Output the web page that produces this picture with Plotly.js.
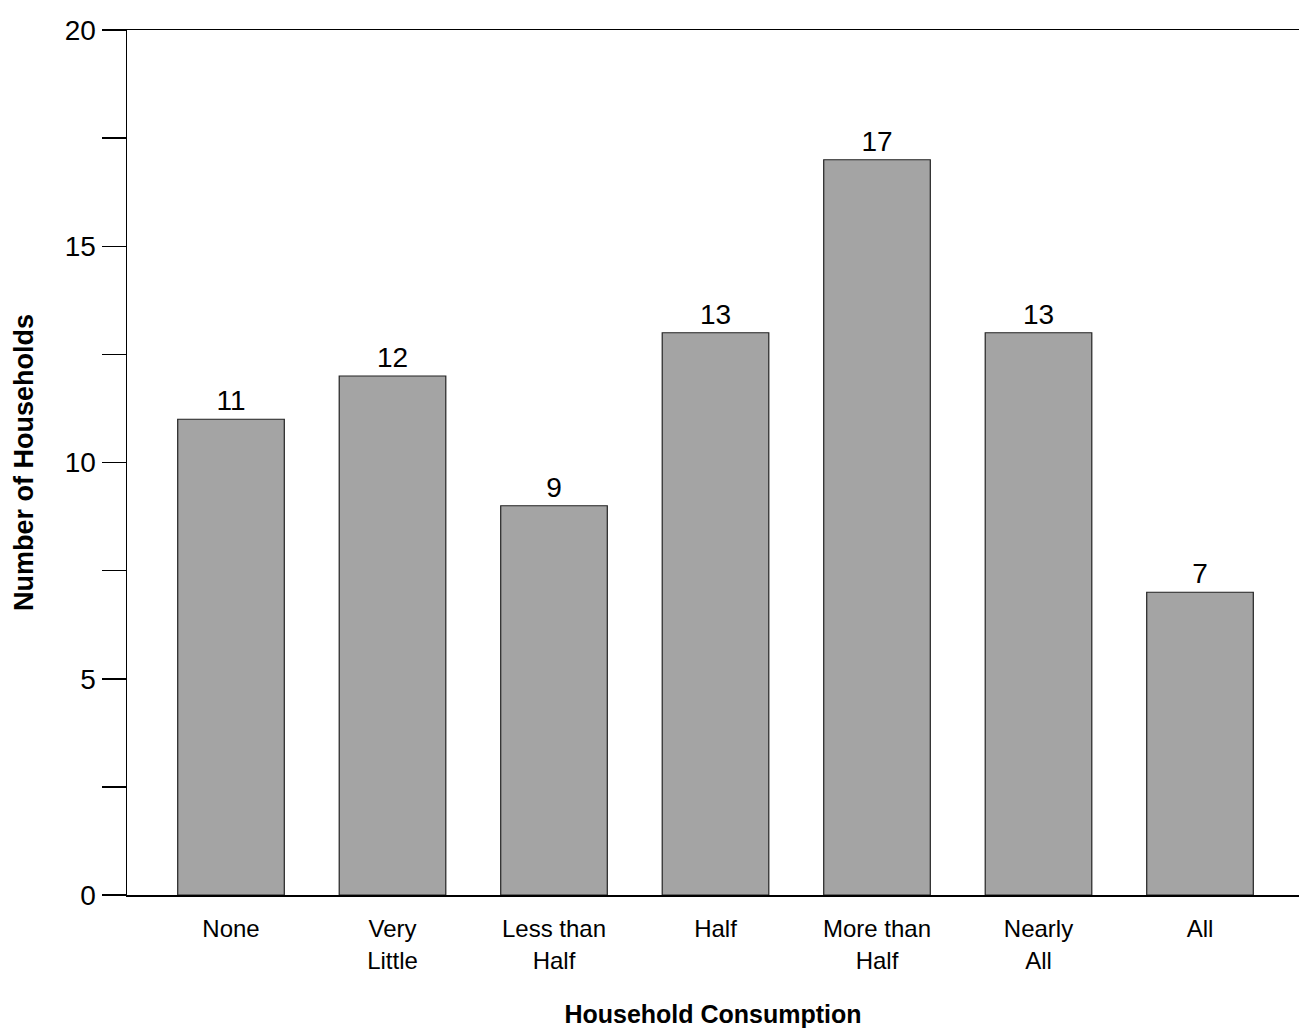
<!DOCTYPE html>
<html>
<head>
<meta charset="utf-8">
<script src="https://cdn.plot.ly/plotly-3.0.1.min.js"></script>
<style>html,body{margin:0;padding:0;background:#fff;}#chart{width:1299px;height:1028px;}</style>
</head>
<body>
<div id="chart"></div>
<script>
const categories = ["None", "Very<br>Little", "Less than<br>Half", "Half", "More than<br>Half", "Nearly<br>All", "All"];
const households = [11, 12, 9, 13, 17, 13, 7];
const yTickVals = [0, 5, 10, 15, 20];
const yTickText = ["0", "5", "10", "15", "20"];
const xTitle = "Household Consumption";
const yTitle = "Number of Households";

const font = "Liberation Sans, Arial, sans-serif";

const trace = {
  type: "bar",
  x: categories,
  y: households,
  width: 0.66,
  marker: { color: "#a4a4a4", line: { color: "#222222", width: 1.2 } },
  text: households.map(String),
  textposition: "outside",
  textfont: { family: font, size: 28, color: "#000" },
  cliponaxis: false,
  hoverinfo: "none"
};

const layout = {
  width: 1299,
  height: 1028,
  margin: { l: 127, r: 0, t: 30, b: 133 },
  paper_bgcolor: "#fff",
  plot_bgcolor: "#fff",
  showlegend: false,
  font: { family: font, color: "#000" },
  xaxis: {
    type: "category",
    range: [-0.644, 6.613],
    showline: true,
    linecolor: "#000",
    linewidth: 1.5,
    mirror: true,
    ticks: "",
    ticklabelstandoff: 12,
    showgrid: false,
    zeroline: false,
    tickfont: { family: font, size: 24, color: "#000" },
    title: { text: xTitle, font: { family: font, size: 25, color: "#000", weight: "bold" }, standoff: 36 }
  },
  yaxis: {
    range: [0, 20],
    tickvals: yTickVals,
    ticktext: yTickText,
    ticks: "outside",
    ticklen: 24,
    tickwidth: 1.5,
    tickcolor: "#000",
    showline: true,
    linecolor: "#000",
    linewidth: 1.5,
    showgrid: false,
    zeroline: false,
    minor: { dtick: 2.5, ticks: "outside", ticklen: 24, tickwidth: 1.5, tickcolor: "#000", showgrid: false },
    tickfont: { family: font, size: 28, color: "#000" },
    title: { text: yTitle, font: { family: font, size: 27, color: "#000", weight: "bold" }, standoff: 23 }
  }
};

Plotly.newPlot("chart", [trace], layout, { displayModeBar: false, staticPlot: true });
</script>
</body>
</html>
